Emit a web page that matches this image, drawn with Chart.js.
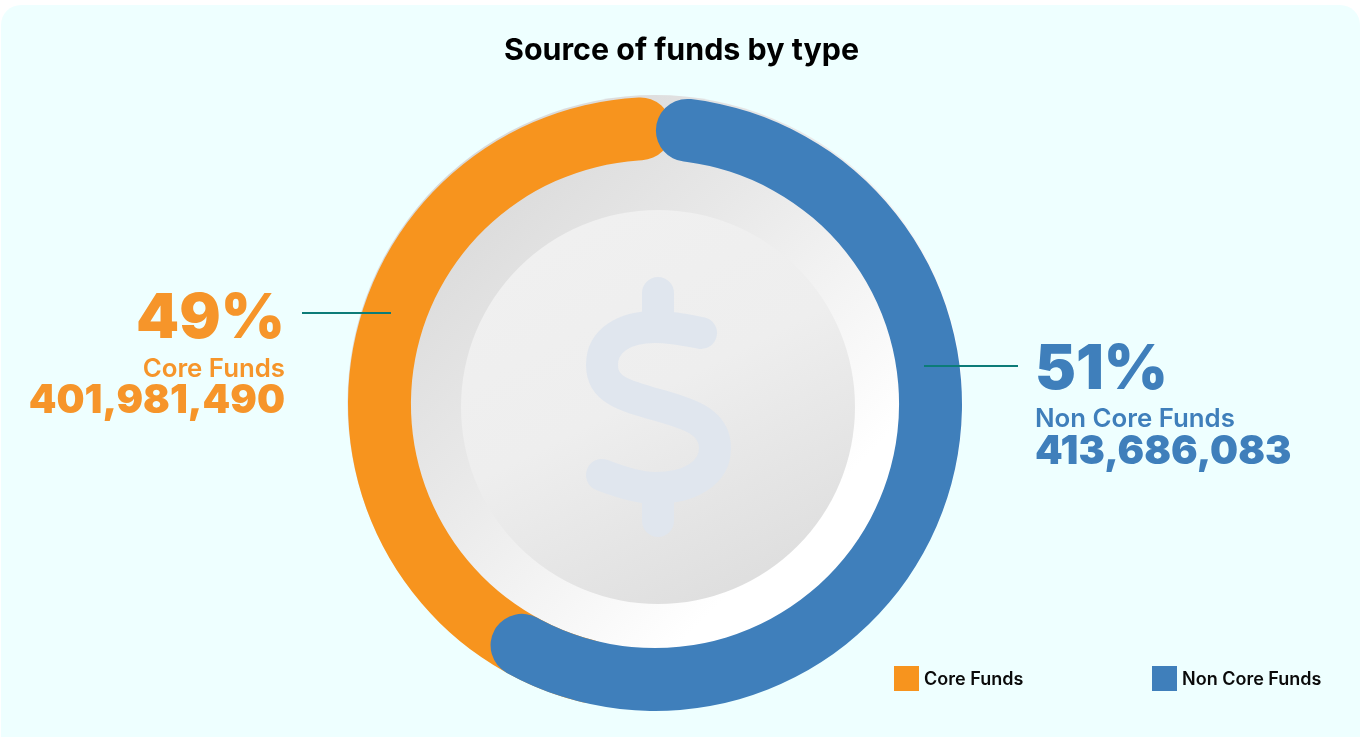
<!DOCTYPE html>
<html>
<head>
<meta charset="utf-8">
<title>Source of funds by type</title>
<script src="https://cdn.jsdelivr.net/npm/chart.js@4"></script>
<style>
html,body{margin:0;padding:0;background:#fff;overflow:hidden}
#card{position:absolute;left:1px;top:5px;width:1359px;height:732px;background:#eeffff;border-radius:20px 20px 0 0}
#wrap{position:absolute;left:0;top:0;width:1363px;height:737px}
.t{position:absolute;white-space:nowrap;font-family:Inter,sans-serif;line-height:1}
.r{text-align:right}
.orange{color:#f6952a}
.blue{color:#3f7fbb}
.line{position:absolute;height:2px;background:#0c7c78}
.box{position:absolute;width:25px;height:25px;top:666px}
</style>
</head>
<body>
<div id="card"></div>
<div id="wrap"><canvas id="myChart" width="1363" height="737"></canvas></div>
<div class="t" id="title" style="left:0;width:1363px;top:34px;text-align:center;font-size:30.4px;font-weight:700;color:#000"></div>
<div class="line" style="left:302px;top:312px;width:89px"></div>
<div class="line" style="left:924px;top:365px;width:94px"></div>
<div class="t r orange" id="pct0" style="right:1078px;top:285px;font-size:61.5px;font-weight:900"></div>
<div class="t r orange" id="name0" style="right:1078px;top:355px;font-size:25.8px;font-weight:600"></div>
<div class="t r orange" id="val0" style="right:1078px;top:380px;font-size:39.5px;font-weight:900"></div>
<div class="t blue" id="pct1" style="left:1035px;top:336px;font-size:61.5px;font-weight:900"></div>
<div class="t blue" id="name1" style="left:1035px;top:405px;font-size:25.8px;font-weight:600"></div>
<div class="t blue" id="val1" style="left:1035px;top:431px;font-size:39.5px;font-weight:900"></div>
<div class="box" style="left:894px;background:#f7941e"></div>
<div class="t" id="leg0" style="left:924px;top:670px;font-size:18px;font-weight:600;color:#0a0a0a"></div>
<div class="box" style="left:1152px;background:#3f7fbb"></div>
<div class="t" id="leg1" style="left:1182px;top:670px;font-size:18px;font-weight:600;color:#0a0a0a"></div>
<script>
const chartTitle = "Source of funds by type";
const categories = ["Core Funds", "Non Core Funds"];
const amounts = [401981490, 413686083];
const percents = [49, 51];
// arc sizes in degrees as seen in the picture, blue overlaps orange at both ends
const ringSweep = [176, 215.2];
const ringStart = [187.5, 0.2];
const ringColors = ["#f7941e", "#3f7fbb"];

document.getElementById("title").textContent = chartTitle;
categories.forEach((c, i) => {
  document.getElementById("pct" + i).textContent = percents[i] + "%";
  document.getElementById("name" + i).textContent = c;
  document.getElementById("val" + i).textContent = amounts[i].toLocaleString("en-US");
  document.getElementById("leg" + i).textContent = c;
});

// both rings share one radius so the arcs lie on top of each other
const sameRing = {
  id: "sameRing",
  afterDatasetsUpdate(chart) {
    const a = chart.chartArea;
    const outer = Math.min(a.right - a.left, a.bottom - a.top) / 2;
    chart.data.datasets.forEach((d, i) => {
      chart.getDatasetMeta(i).data.forEach(el => {
        el.outerRadius = outer;
        el.innerRadius = outer * 0.795;
      });
    });
  }
};

// grey coin with the dollar sign behind the ring
const coin = {
  id: "coin",
  beforeDatasetsDraw(chart) {
    const ctx = chart.ctx;
    const a = chart.chartArea;
    const cx = (a.left + a.right) / 2, cy = (a.top + a.bottom) / 2;
    ctx.save();
    let g = ctx.createLinearGradient(cx - 220, cy - 220, cx + 220, cy + 220);
    g.addColorStop(0, "#d8d8d8");
    g.addColorStop(0.35, "#e8e8e8");
    g.addColorStop(0.8, "#ffffff");
    ctx.fillStyle = g;
    ctx.beginPath();
    ctx.arc(cx, cy - 1.5, 307.5, 0, Math.PI * 2);
    ctx.fill();

    g = ctx.createLinearGradient(cx - 90, cy - 170, cx + 90, cy + 190);
    g.addColorStop(0, "#f0f0f0");
    g.addColorStop(0.45, "#eeeeee");
    g.addColorStop(1, "#dedede");
    ctx.fillStyle = g;
    ctx.beginPath();
    ctx.arc(cx + 3, cy + 3, 197, 0, Math.PI * 2);
    ctx.fill();

    ctx.translate(cx - 655, cy - 404);
    ctx.strokeStyle = "#e0e6ee";
    ctx.lineWidth = 32;
    ctx.lineCap = "round";
    ctx.lineJoin = "round";
    ctx.beginPath();
    ctx.moveTo(658, 293);
    ctx.lineTo(658, 327);
    ctx.moveTo(658, 488);
    ctx.lineTo(658, 521);
    ctx.moveTo(701, 333);
    ctx.bezierCurveTo(680, 329, 670, 327, 655, 327);
    ctx.bezierCurveTo(625, 327, 602, 340, 602, 365);
    ctx.bezierCurveTo(602, 390, 625, 396, 658, 405);
    ctx.bezierCurveTo(690, 414, 715, 422, 715, 448);
    ctx.bezierCurveTo(715, 473, 690, 488, 655, 488);
    ctx.bezierCurveTo(640, 488, 620, 482, 602, 475);
    ctx.stroke();
    ctx.restore();
  }
};

new Chart("myChart", {
  type: "doughnut",
  data: {
    labels: categories.concat(""),
    datasets: categories.map((c, i) => ({
      label: c,
      data: [ringSweep[i], 360 - ringSweep[i]],
      rotation: ringStart[i],
      backgroundColor: [ringColors[i], "transparent"],
      borderWidth: 0,
      borderRadius: 32,
      order: 1 - i
    }))
  },
  plugins: [coin, sameRing],
  options: {
    responsive: false,
    animation: false,
    events: [],
    layout: { padding: { left: 348, right: 401, top: 97, bottom: 26 } },
    plugins: { legend: { display: false }, tooltip: { enabled: false }, title: { display: false } }
  }
});
</script>
</body>
</html>
